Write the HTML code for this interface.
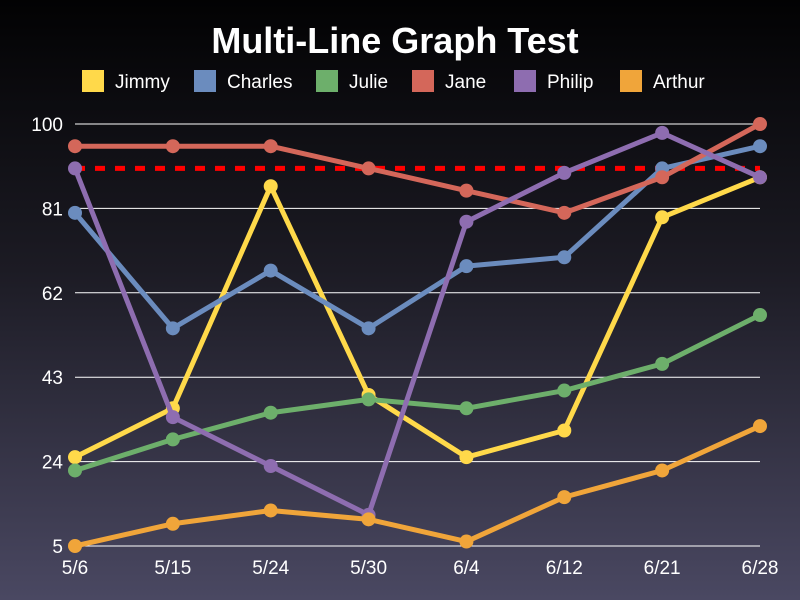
<!DOCTYPE html>
<html><head><meta charset="utf-8"><style>
html,body{margin:0;padding:0;width:800px;height:600px;overflow:hidden}
body{background:linear-gradient(to bottom,#020203 0%,#1c1b24 45%,#4a4862 100%);font-family:"Liberation Sans",sans-serif}
</style></head><body>
<svg id="chart" width="800" height="600" xmlns="http://www.w3.org/2000/svg" font-family="Liberation Sans, sans-serif"></svg>
<script>
const categories=["5/6","5/15","5/24","5/30","6/4","6/12","6/21","6/28"];
const seriesNames=["Jimmy","Charles","Julie","Jane","Philip","Arthur"];
const seriesColors=["#ffd94a","#6b8cbe","#6daf6b","#d4675a","#8e6db0","#f0a53a"];
const jimmy=[25,36,86,39,25,31,79,88];
const charles=[80,54,67,54,68,70,90,95];
const julie=[22,29,35,38,36,40,46,57];
const jane=[95,95,95,90,85,80,88,100];
const philip=[90,34,23,12,78,89,98,88];
const arthur=[5,10,13,11,6,16,22,32];
const yTicks=[5,24,43,62,81,100];
const threshold=90;
const allSeries=[jimmy,charles,julie,jane,philip,arthur];
const svg=document.getElementById('chart');
const NS='http://www.w3.org/2000/svg';
const x0=75,x1=760,yTop=124,yBot=546,yMin=5,yMax=100;
const xs=i=>x0+i*(x1-x0)/(categories.length-1);
const ys=v=>yBot-(v-yMin)/(yMax-yMin)*(yBot-yTop);
function mk(t,a){const e=document.createElementNS(NS,t);for(const k in a)e.setAttribute(k,a[k]);svg.appendChild(e);return e;}
let t=mk('text',{x:395,y:53,'text-anchor':'middle','font-size':36,'font-weight':'bold',fill:'#fff'});t.textContent='Multi-Line Graph Test';


const legX=[82,194,316,412,514,620];
seriesNames.forEach((n,i)=>{
 const r=mk('rect',{x:legX[i],y:70,width:22,height:22,fill:seriesColors[i]});
 
 
 const tx=mk('text',{x:legX[i]+33,y:88,'font-size':19,fill:'#fff'});tx.textContent=n;
 
 
});
yTicks.forEach(v=>{
 const l=mk('line',{x1:x0,x2:x1,y1:ys(v),y2:ys(v),stroke:'#fff','stroke-width':1});
 
 
 const tx=mk('text',{x:63,y:ys(v)+7,'text-anchor':'end','font-size':19,fill:'#fff'});tx.textContent=v;
 
 
});
categories.forEach((c,i)=>{
 const tx=mk('text',{x:xs(i),y:574,'text-anchor':'middle','font-size':19,fill:'#fff'});tx.textContent=c;
 
 
});
const th=mk('line',{x1:x0,x2:x1,y1:ys(threshold),y2:ys(threshold),stroke:'#ff0000','stroke-width':5,'stroke-dasharray':'10,10'});


allSeries.forEach((s,si)=>{
 const p=mk('polyline',{points:s.map((v,i)=>xs(i)+','+ys(v)).join(' '),fill:'none',stroke:seriesColors[si],'stroke-width':5,'stroke-linejoin':'round'});
 
 
 s.forEach((v,i)=>{
  const c=mk('circle',{cx:xs(i),cy:ys(v),r:7,fill:seriesColors[si]});
  
  
 });
});
</script>
</body></html>
